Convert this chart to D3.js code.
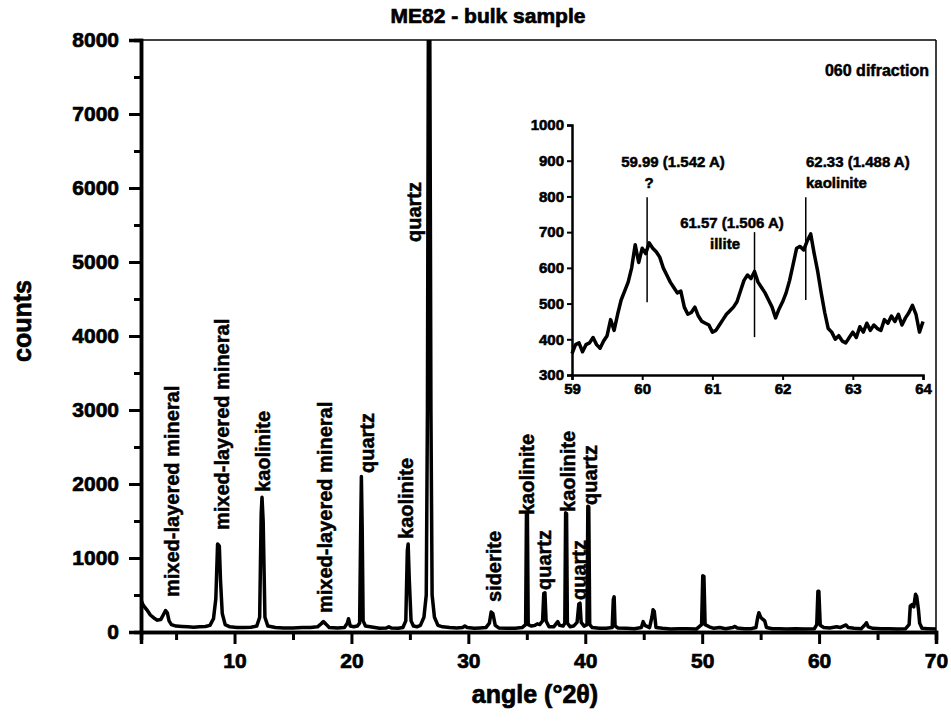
<!DOCTYPE html>
<html>
<head>
<meta charset="utf-8">
<script src="https://cdn.jsdelivr.net/npm/d3@7"></script>
<style>
  body { margin: 0; background: #fff; }
  svg { display: block; }
  text { font-family: "Liberation Sans", Arial, sans-serif; font-weight: bold; fill: #000; }
  .heavy { stroke: #000; stroke-width: 0.7px; }
</style>
</head>
<body>
<svg id="chart" width="951" height="728"></svg>
<script>
// ---- data ----
// bulk pattern: [angle 2theta, counts]
const bulkPattern = [
  [2.0, 430], [2.2, 360], [2.5, 300], [2.8, 230], [3.1, 190], [3.4, 160], [3.7, 170], [3.9, 230],
  [4.1, 290], [4.25, 260], [4.4, 150], [4.6, 100], [5.0, 80], [5.5, 75], [6.0, 70], [6.5, 65],
  [7.0, 70], [7.5, 75], [7.9, 90], [8.2, 180], [8.4, 450], [8.55, 1190], [8.7, 1160], [8.8, 700],
  [8.95, 250], [9.2, 100], [9.6, 70], [10.2, 60], [10.8, 60], [11.4, 65], [11.9, 80], [12.15, 200],
  [12.28, 1600], [12.35, 1820], [12.45, 1500], [12.6, 200], [12.85, 80], [13.5, 60], [14.2, 55],
  [15.0, 55], [15.8, 60], [16.5, 60], [17.1, 70], [17.4, 110], [17.6, 140], [17.8, 110], [18.1, 60],
  [18.8, 55], [19.4, 60], [19.65, 120], [19.75, 180], [19.9, 80], [20.2, 70], [20.5, 80], [20.7, 120],
  [20.8, 1500], [20.85, 2100], [20.92, 1400], [21.0, 150], [21.2, 80], [21.6, 70], [22.0, 60],
  [22.4, 50], [23.0, 55], [23.2, 70], [23.4, 55], [24.0, 50], [24.4, 60], [24.65, 150], [24.78, 1100],
  [24.85, 1190], [24.95, 700], [25.1, 150], [25.3, 80], [25.6, 70], [25.9, 90], [26.2, 200],
  [26.4, 500], [26.5, 3000], [26.58, 8200], [26.7, 8200], [26.8, 3000], [26.9, 500], [27.1, 200],
  [27.4, 90], [27.8, 70], [28.4, 60], [29.0, 55], [29.5, 60], [29.7, 80], [29.9, 60], [30.5, 50],
  [31.0, 55], [31.5, 60], [31.8, 120], [31.95, 270], [32.1, 250], [32.3, 90], [32.6, 55], [33.3, 50],
  [34.0, 50], [34.6, 60], [34.9, 100], [34.97, 1610], [35.05, 1600], [35.12, 100], [35.4, 80],
  [35.7, 90], [35.9, 110], [36.1, 100], [36.35, 150], [36.45, 520], [36.55, 530], [36.65, 150],
  [36.9, 70], [37.3, 70], [37.5, 110], [37.65, 140], [37.8, 90], [38.1, 80], [38.25, 120],
  [38.32, 1610], [38.4, 1600], [38.47, 120], [38.7, 70], [39.0, 80], [39.3, 130], [39.45, 380],
  [39.55, 390], [39.65, 130], [39.9, 80], [40.15, 100], [40.22, 1700], [40.3, 1690], [40.38, 100],
  [40.6, 60], [41.2, 50], [41.8, 50], [42.3, 60], [42.4, 440], [42.47, 475], [42.55, 80], [42.8, 55],
  [43.5, 50], [44.2, 45], [44.8, 60], [44.95, 140], [45.1, 90], [45.5, 60], [45.7, 200], [45.8, 300],
  [45.9, 280], [46.05, 60], [46.6, 50], [47.3, 40], [48.0, 45], [48.7, 45], [49.5, 40], [49.95, 100],
  [50.05, 760], [50.15, 750], [50.25, 100], [50.6, 70], [51.0, 50], [51.5, 60], [52.0, 45],
  [52.6, 60], [52.8, 75], [53.0, 55], [53.6, 45], [54.2, 45], [54.6, 60], [54.75, 200], [54.85, 260],
  [55.0, 200], [55.2, 170], [55.35, 150], [55.5, 60], [56.0, 45], [56.6, 45], [57.2, 40], [58.0, 45],
  [58.8, 40], [59.6, 45], [59.8, 100], [59.9, 550], [59.98, 550], [60.1, 90], [60.4, 60], [60.9, 55],
  [61.5, 70], [61.8, 60], [62.3, 95], [62.5, 60], [63.0, 50], [63.6, 45], [63.95, 100], [64.05, 125],
  [64.2, 70], [64.6, 50], [65.3, 45], [66.0, 45], [66.7, 40], [67.4, 45], [67.7, 100], [67.8, 350],
  [67.95, 370], [68.1, 340], [68.25, 510], [68.35, 480], [68.5, 300], [68.6, 120], [68.8, 50],
  [69.3, 45], [70.0, 40]
];

// peak labels: text, angle of label centre, counts at label start
const peakNames = ["mixed-layered mineral", "mixed-layered mineral", "kaolinite", "mixed-layered mineral",
  "quartz", "kaolinite", "quartz", "siderite", "kaolinite", "quartz", "kaolinite", "quartz", "quartz"];
const peakAngles = [4.65, 8.93, 12.45, 17.75, 21.35, 24.7, 25.37, 32.2, 35.0, 36.47, 38.5, 39.5, 40.44];
const peakHeights = [473, 1378, 1892, 257, 2149, 1257, 5270, 405, 1581, 568, 1622, 432, 1716];

const mainXTicks = [10, 20, 30, 40, 50, 60, 70];
const mainYTicks = [0, 1000, 2000, 3000, 4000, 5000, 6000, 7000, 8000];

// 060 inset: counts every 0.05 deg from 59.00 to 64.00
const insetStart = 59, insetStep = 0.05;
const insetCounts = [
  360, 385, 390, 365, 385, 390, 405, 385, 375, 395, 410, 455, 425, 470, 510, 535, 560, 600, 665, 615,
  655, 640, 670, 655, 645, 630, 600, 580, 560, 545, 530, 535, 490, 470, 475, 490, 465, 450, 445, 440,
  420, 425, 440, 455, 470, 480, 490, 505, 535, 565, 580, 570, 590, 560, 545, 530, 510, 490, 460, 485,
  505, 530, 565, 610, 655, 660, 650, 675, 695, 640, 590, 530, 475, 430, 420, 400, 410, 395, 390, 405,
  420, 405, 435, 420, 445, 425, 440, 430, 425, 455, 445, 465, 450, 470, 440, 460, 475, 495, 470, 420,
  450
];
const insetXTicks = [59, 60, 61, 62, 63, 64];
const insetYTicks = [300, 400, 500, 600, 700, 800, 900, 1000];

// inset marker lines: angle, top counts, bottom counts
const markAngles = [60.07, 61.6, 62.33];
const markTops = [798, 700, 798];
const markBottoms = [504, 406, 510];
const markLabels = [["59.99 (1.542 A)", "?"], ["61.57 (1.506 A)", "illite"], ["62.33 (1.488 A)", "kaolinite"]];

// ---- drawing ----
const svg = d3.select("#chart");
const plotLeft = 141, plotRight = 936, plotTop = 40, plotBottom = 632;

let x = d3.scaleLinear().domain([2, 70]).range([plotLeft, plotRight]);
let y = d3.scaleLinear().domain([0, 8000]).range([plotBottom, plotTop]);

svg.append("defs").append("clipPath").attr("id", "plotClip")
  .append("rect").attr("x", plotLeft).attr("y", plotTop)
  .attr("width", plotRight - plotLeft).attr("height", plotBottom - plotTop);

// frame top/right thin
svg.append("line").attr("x1", plotLeft).attr("x2", plotRight).attr("y1", plotTop).attr("y2", plotTop)
  .attr("stroke", "#000").attr("stroke-width", 1.5);
svg.append("line").attr("x1", plotRight).attr("x2", plotRight).attr("y1", plotTop).attr("y2", plotBottom)
  .attr("stroke", "#000").attr("stroke-width", 1.5);

// curve
let line = d3.line().x(d => x(d[0])).y(d => y(d[1]));
svg.append("path")
  .datum(bulkPattern)
  .attr("clip-path", "url(#plotClip)")
  .attr("d", line)
  .attr("fill", "none")
  .attr("stroke", "#000")
  .attr("stroke-width", 3.5)
  .attr("stroke-linejoin", "round");

// axes
let yAxis = svg.append("g").attr("transform", `translate(${plotLeft},0)`)
  .call(d3.axisLeft(y).tickValues(mainYTicks).tickSize(12).tickPadding(10).tickFormat(d3.format("d")));
let yMinor = svg.append("g").attr("transform", `translate(${plotLeft},0)`)
  .call(d3.axisLeft(y).tickValues(d3.range(500, 8000, 1000)).tickSize(7).tickFormat(""));
let xAxis = svg.append("g").attr("transform", `translate(0,${plotBottom})`)
  .call(d3.axisBottom(x).tickValues(mainXTicks).tickSize(12).tickPadding(9));
let xMinor = svg.append("g").attr("transform", `translate(0,${plotBottom})`)
  .call(d3.axisBottom(x).tickValues(d3.range(5, 70, 10)).tickSize(8).tickFormat(""));

for (let g of [yAxis, yMinor, xAxis, xMinor]) {
  g.select(".domain").attr("stroke-width", 3.5);
  g.selectAll(".tick line").attr("stroke-width", 3);
  g.selectAll("text").attr("font-size", 21).attr("class", "heavy")
    .style("font-family", "'Liberation Sans', Arial, sans-serif").style("font-weight", "bold");
}

// peak labels
peakNames.forEach((name, i) => {
  svg.append("text")
    .attr("class", "heavy")
    .attr("transform", `translate(${x(peakAngles[i])},${y(peakHeights[i])}) rotate(-90)`)
    .attr("dy", "0.35em")
    .attr("font-size", 20)
    .style("stroke-width", "0.5px")
    .text(name);
});

// titles
svg.append("text").attr("class", "heavy").attr("x", 488).attr("y", 23)
  .attr("text-anchor", "middle").attr("font-size", 21).text("ME82 - bulk sample");
svg.append("text").attr("class", "heavy").attr("x", 535).attr("y", 703)
  .attr("text-anchor", "middle").attr("font-size", 25).text("angle (\u00B02\u03B8)");
svg.append("text").attr("class", "heavy")
  .attr("transform", "translate(31,321) rotate(-90)")
  .attr("text-anchor", "middle").attr("font-size", 25).text("counts");
svg.append("text").attr("class", "heavy").attr("x", 929).attr("y", 76)
  .attr("text-anchor", "end").attr("font-size", 16).style("stroke-width", "0.5px").text("060 difraction");

// ---- inset ----
let ix = d3.scaleLinear().domain([59, 64]).range([572, 923]);
let iy = d3.scaleLinear().domain([300, 1000]).range([375, 125]);

let insetLine = d3.line().x((d, i) => ix(insetStart + i * insetStep)).y(d => iy(d));
svg.append("path")
  .datum(insetCounts)
  .attr("d", insetLine)
  .attr("fill", "none")
  .attr("stroke", "#000")
  .attr("stroke-width", 3.5)
  .attr("stroke-linejoin", "round");

let iyAxis = svg.append("g").attr("transform", "translate(572,0)")
  .call(d3.axisLeft(iy).tickValues(insetYTicks).tickSize(5).tickPadding(3).tickFormat(d3.format("d")));
let ixAxis = svg.append("g").attr("transform", "translate(0,375)")
  .call(d3.axisBottom(ix).tickValues(insetXTicks).tickSize(5).tickPadding(3).tickFormat(d3.format("d")));
for (let g of [iyAxis, ixAxis]) {
  g.select(".domain").attr("stroke-width", 2.5);
  g.selectAll(".tick line").attr("stroke-width", 2);
  g.selectAll("text").attr("font-size", 15).attr("class", "heavy")
    .style("stroke-width", "0.6px")
    .style("font-family", "'Liberation Sans', Arial, sans-serif").style("font-weight", "bold");
}

markAngles.forEach((a, i) => {
  svg.append("line")
    .attr("x1", ix(a)).attr("x2", ix(a))
    .attr("y1", iy(markTops[i])).attr("y2", iy(markBottoms[i]))
    .attr("stroke", "#000").attr("stroke-width", 1.5);
});

// annotation text positions (px) next to the marker lines
const markTextX = [673, 732, 806];
const markTextY = [167, 228, 167];
const markAnchor = ["middle", "middle", "start"];
const subX = [649, 725, 806];
markLabels.forEach((lab, i) => {
  svg.append("text").attr("class", "heavy").style("stroke-width", "0.5px")
    .attr("x", markTextX[i]).attr("y", markTextY[i])
    .attr("text-anchor", markAnchor[i]).attr("font-size", 15).text(lab[0]);
  svg.append("text").attr("class", "heavy").style("stroke-width", "0.5px")
    .attr("x", subX[i]).attr("y", markTextY[i] + 21)
    .attr("text-anchor", i == 2 ? "start" : "middle").attr("font-size", 15).text(lab[1]);
});
</script>
</body>
</html>
